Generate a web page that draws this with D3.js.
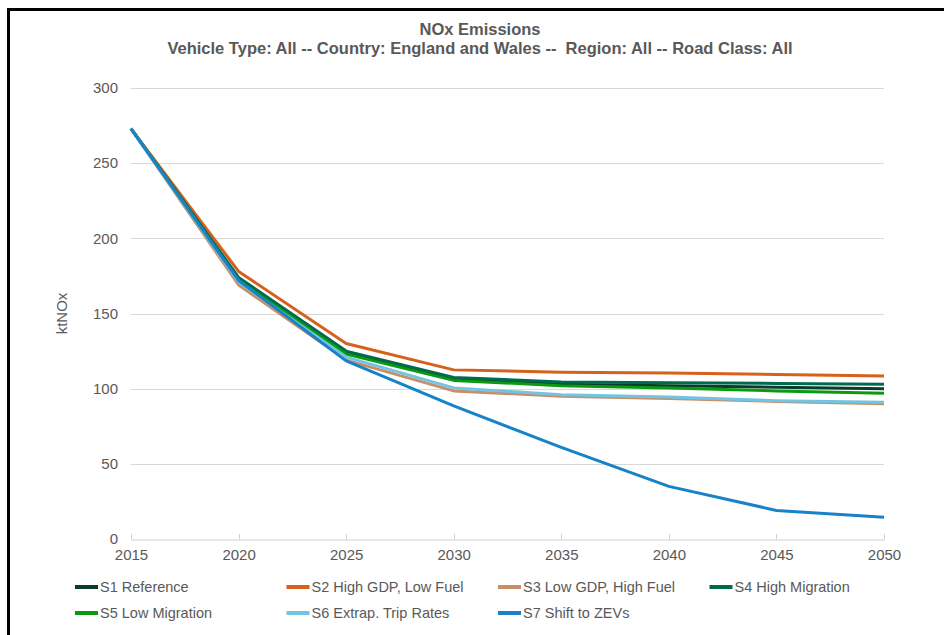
<!DOCTYPE html>
<html>
<head>
<meta charset="utf-8">
<script src="https://cdn.jsdelivr.net/npm/d3@7"></script>
<style>
  body { margin: 0; background: #fff; }
  svg { display: block; font-family: "Liberation Sans Narrow", "Arial Narrow", "Liberation Sans", Arial, sans-serif; }
</style>
</head>
<body>
<div id="chart"></div>
<script>
const years = [2015, 2020, 2025, 2030, 2035, 2040, 2045, 2050];
const seriesNames = ['S1 Reference', 'S2 High GDP, Low Fuel', 'S3 Low GDP, High Fuel',
  'S4 High Migration', 'S5 Low Migration', 'S6 Extrap. Trip Rates', 'S7 Shift to ZEVs'];
const seriesColors = ['#0b3b2c', '#d5611d', '#c98e68', '#006a4e', '#0a9a12', '#72c5e2', '#1683c9'];

const s1 = [273, 173, 124, 106, 103, 102, 101, 100];
const s2 = [273, 178, 130, 112.5, 111, 110.5, 109.5, 108.5];
const s3 = [273, 169, 119, 98.5, 95, 93.5, 91.5, 90];
const s4 = [273, 174, 125, 107.5, 104.5, 104, 103.5, 103];
const s5 = [273, 172, 123, 105.5, 102, 100.5, 98.5, 97];
const s6 = [273, 171, 121, 100.5, 96, 94.5, 92, 91];
const s7 = [273, 172, 118.5, 88.5, 61, 35, 19, 14.5];
const allSeries = [s1, s2, s3, s4, s5, s6, s7];

const yTicks = [0, 50, 100, 150, 200, 250, 300];
const titleText = 'NOx Emissions';
const subtitleText = 'Vehicle Type: All -- Country: England and Wales --  Region: All -- Road Class: All';

const width = 944;
const height = 635;
const plot = { left: 131, right: 884, top: 88, bottom: 539 };
const textGrey = '#595959';

const svg = d3.select('#chart').append('svg')
    .attr('width', width)
    .attr('height', height);

// outer frame
svg.append('path')
    .attr('d', `M8.5,${height} L8.5,9.5 L${width},9.5`)
    .attr('fill', 'none')
    .attr('stroke', '#000')
    .attr('stroke-width', 3);

// titles
svg.append('text')
    .text(titleText)
    .attr('x', 480)
    .attr('y', 35)
    .attr('text-anchor', 'middle')
    .attr('font-weight', 'bold')
    .attr('font-size', 16.5)
    .attr('fill', textGrey);

svg.append('text')
    .text(subtitleText)
    .attr('x', 480)
    .attr('y', 54)
    .attr('text-anchor', 'middle')
    .attr('font-weight', 'bold')
    .attr('font-size', 16.5)
    .style('white-space', 'pre')
    .attr('fill', textGrey);

const x = d3.scaleLinear().domain([2015, 2050]).range([plot.left, plot.right]);
const y = d3.scaleLinear().domain([0, 300]).range([plot.bottom, plot.top]);

// gridlines
svg.append('g')
  .selectAll('line')
  .data(yTicks.filter(d => d > 0))
  .join('line')
    .attr('x1', plot.left)
    .attr('x2', plot.right)
    .attr('y1', d => Math.round(y(d)) + 0.5)
    .attr('y2', d => Math.round(y(d)) + 0.5)
    .attr('stroke', '#d9d9d9')
    .attr('stroke-width', 1);

// y axis labels
const yAxis = d3.axisLeft(y).tickValues(yTicks).tickSize(0).tickPadding(13);
svg.append('g')
    .attr('transform', `translate(${plot.left}, 0)`)
    .call(yAxis)
    .call(g => g.select('.domain').remove())
    .call(g => g.selectAll('text').attr('fill', textGrey).attr('font-size', 15).attr('font-family', null));

// x axis
const xAxis = d3.axisBottom(x).tickValues(years).tickFormat(d3.format('d')).tickSize(0).tickPadding(10);
svg.append('g')
    .attr('transform', `translate(0, ${plot.bottom + 0.5})`)
    .call(xAxis)
    .call(g => g.select('.domain').attr('stroke', '#d0d0d0'))
    .call(g => g.selectAll('text').attr('fill', textGrey).attr('font-size', 15).attr('font-family', null));

svg.append('g')
  .selectAll('line')
  .data(years)
  .join('line')
    .attr('x1', d => Math.round(x(d)) + 0.5)
    .attr('x2', d => Math.round(x(d)) + 0.5)
    .attr('y1', plot.bottom + 0.5)
    .attr('y2', plot.bottom - 5)
    .attr('stroke', '#d0d0d0');

// y axis title
svg.append('text')
    .text('ktNOx')
    .attr('transform', `translate(67, ${(plot.top + plot.bottom) / 2}) rotate(-90)`)
    .attr('text-anchor', 'middle')
    .attr('font-size', 15)
    .attr('fill', textGrey);

// lines
const line = d3.line()
    .x((d, i) => x(years[i]))
    .y(d => y(d));

svg.append('g')
  .selectAll('path')
  .data(allSeries)
  .join('path')
    .attr('d', line)
    .attr('fill', 'none')
    .attr('stroke', (d, i) => seriesColors[i])
    .attr('stroke-width', 3)
    .attr('stroke-linejoin', 'round');

// legend
const legend = svg.append('g');
const item = legend.selectAll('g')
  .data(seriesNames)
  .join('g')
    .attr('transform', (d, i) => `translate(${75 + (i % 4) * 211.5}, ${587 + Math.floor(i / 4) * 26})`);

item.append('line')
    .attr('x1', 0)
    .attr('x2', 23)
    .attr('stroke', (d, i) => seriesColors[i])
    .attr('stroke-width', 4);

item.append('text')
    .text(d => d)
    .attr('x', 25)
    .attr('dy', '0.35em')
    .attr('font-size', 14.5)
    .attr('fill', textGrey);
</script>
</body>
</html>
